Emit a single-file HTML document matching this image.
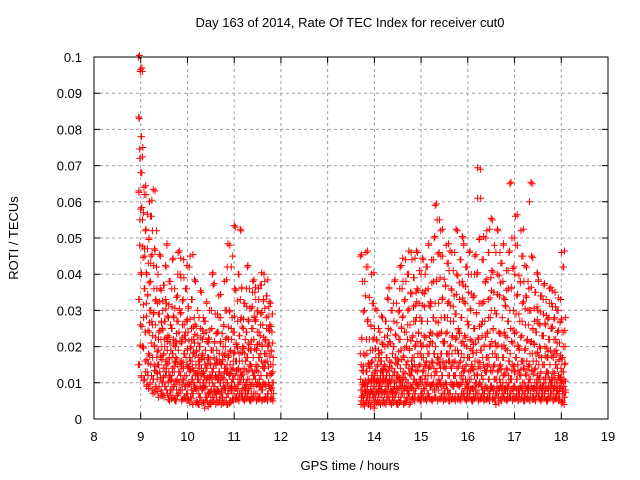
<!DOCTYPE html>
<html><head><meta charset="utf-8"><style>
html,body{margin:0;padding:0;background:#fff;}
svg{display:block;font-family:"Liberation Sans",sans-serif;}
</style></head><body>
<svg id="chart" width="640" height="480" viewBox="0 0 640 480">
<rect width="640" height="480" fill="#fff"/>
<text x="350" y="27" font-size="13" text-anchor="middle" fill="#000">Day 163 of 2014, Rate Of TEC Index for receiver cut0</text>
<g id="grid"></g>
<g id="points"></g>
<rect x="94" y="57" width="514" height="362" fill="none" stroke="#000" stroke-width="1"/>
<g id="ticks"></g>
<text x="350" y="470" font-size="13" text-anchor="middle">GPS time / hours</text>
<text x="18" y="238" font-size="13" text-anchor="middle" transform="rotate(-90 18 238)">ROTI / TECUs</text>
</svg>
<script>
const xTicks=[8,9,10,11,12,13,14,15,16,17,18,19];
const yTicks=[0,0.01,0.02,0.03,0.04,0.05,0.06,0.07,0.08,0.09,0.1];
const yTickLabels=["0","0.01","0.02","0.03","0.04","0.05","0.06","0.07","0.08","0.09","0.1"];
const binWidth=0.1;
const segAStart=8.95;
const segA=[
"100,96,97,83,78,75,72,68,63,58,55,48,40,33,26,20,15,12",
"64,62,57,52,47,45,40,36,32,28,24,20,16,13,11,9",
"60,56,50,45,43,38,34,30,27,24,21,18,15,12,10,8",
"63,52,47,42,36,33,29,26,23,20,17,15,13,11,9,7",
"45,40,36,32,29,27,24,22,19,17,15,13,11,9,8,6",
"42,37,33,30,27,25,22,20,18,16,14,12,10,9,7,6",
"48,38,32,28,26,23,21,19,17,15,13,12,10,8,7,5",
"44,36,31,28,25,22,20,18,16,14,13,11,9,8,6,5",
"46,40,34,30,27,24,21,19,17,15,13,11,10,8,7,5",
"44,39,33,29,26,23,21,18,16,14,12,11,9,8,6,5",
"42,36,31,27,24,22,19,17,15,14,12,10,9,7,6,5",
"45,33,28,25,22,20,18,16,14,13,11,10,8,7,6,4",
"38,30,26,23,21,19,17,15,13,12,11,9,8,7,5,4",
"35,28,25,22,20,18,16,14,13,12,10,9,8,6,5,4",
"32,27,24,21,19,17,15,14,12,11,10,9,7,6,5,3",
"40,30,25,22,19,17,15,13,12,11,10,8,7,6,5,4",
"37,29,24,21,19,17,15,14,12,11,9,8,7,6,5,4",
"34,28,24,21,18,16,15,13,12,11,10,8,7,6,5,4",
"38,30,26,22,20,18,16,14,13,11,10,9,8,6,5,4",
"48,42,30,25,22,19,17,15,13,12,10,9,8,7,5,4",
"53,45,36,28,24,21,18,16,14,12,11,9,8,7,6,5",
"52,40,33,27,23,20,18,16,14,13,11,10,8,7,6,5",
"36,32,28,25,22,20,18,16,14,12,11,9,8,7,6,5",
"42,36,31,27,24,21,19,17,15,13,11,10,8,7,6,5",
"38,35,31,28,25,22,19,17,15,13,12,10,9,7,6,5",
"36,33,30,27,24,21,19,17,15,13,11,10,9,7,6,5",
"40,37,33,29,26,23,20,18,16,14,12,10,9,8,6,5",
"38,34,31,28,25,22,20,18,16,14,12,10,9,7,6,5",
"32,29,26,24,21,19,17,15,13,12,10,9,8,7,6,5"];
const segBStart=13.7;
const segB=[
"45,38,30,22,18,15,13,11,10,9,8,7,6,5,4,4",
"46,42,34,27,22,18,15,13,11,10,9,8,7,6,5,4",
"40,32,26,22,19,16,14,12,11,10,9,8,7,6,5,3",
"30,25,22,19,17,15,13,12,11,10,9,8,7,6,5,4",
"28,24,21,18,16,14,13,12,11,10,9,8,7,6,5,4",
"33,27,23,20,17,15,13,12,11,10,9,8,7,6,5,4",
"36,30,25,21,18,16,14,12,11,10,9,8,7,6,5,4",
"38,32,27,23,20,17,15,13,12,10,9,8,7,6,5,4",
"42,36,30,25,22,19,16,14,12,11,10,9,8,6,5,4",
"44,38,33,28,24,20,17,15,13,11,10,9,8,7,5,4",
"46,40,35,30,26,22,19,16,14,12,10,9,8,7,6,4",
"44,39,35,31,27,23,20,17,15,13,11,10,8,7,6,5",
"46,41,36,32,28,24,21,18,15,13,11,10,9,7,6,5",
"44,40,35,31,27,23,20,17,15,13,11,10,8,7,6,5",
"48,42,36,31,27,23,20,18,16,14,12,10,9,7,6,5",
"50,44,38,32,28,24,21,18,16,14,12,10,9,8,6,5",
"59,55,46,38,32,27,23,20,17,15,13,11,9,8,6,5",
"52,45,39,33,28,24,21,18,16,14,12,10,9,7,6,5",
"48,43,37,32,28,24,21,18,16,14,12,10,8,7,6,5",
"46,41,36,31,27,23,20,18,16,14,12,10,9,7,6,5",
"52,46,40,34,29,25,22,19,16,14,12,10,9,7,6,5",
"50,44,38,33,28,24,21,18,16,14,12,10,9,7,6,5",
"48,42,37,32,27,23,20,17,15,13,11,10,8,7,6,5",
"46,40,35,30,26,22,19,17,15,13,11,9,8,7,6,5",
"45,40,34,29,25,21,18,16,14,12,10,9,8,7,6,5",
"69,61,50,40,32,26,22,19,16,14,12,10,9,7,6,5",
"50,44,38,32,27,23,20,17,15,13,11,9,8,7,6,5",
"52,46,39,33,28,24,20,17,15,13,11,9,8,7,6,5",
"55,48,41,35,30,25,21,18,15,13,11,9,8,7,6,5",
"52,46,40,34,29,24,20,17,15,13,11,9,8,7,6,4",
"48,43,38,33,28,24,20,17,14,12,10,9,8,7,6,5",
"46,41,36,31,27,23,19,16,14,12,10,9,8,7,6,5",
"65,50,42,36,30,25,21,18,15,13,11,9,8,7,6,5",
"56,48,40,34,29,24,20,17,15,13,11,9,8,7,6,5",
"52,45,38,32,27,23,19,16,14,12,10,9,8,7,6,5",
"42,38,34,30,26,22,19,16,14,12,10,9,8,7,6,5",
"65,60,45,36,30,25,21,18,15,13,11,9,8,7,6,5",
"40,35,31,27,24,21,18,16,14,12,10,9,8,7,6,5",
"38,34,30,26,23,20,17,15,13,11,10,9,8,7,6,5",
"37,33,29,26,23,20,17,15,13,11,10,9,8,7,6,5",
"36,32,28,25,22,19,17,15,13,11,10,9,8,7,6,5",
"35,31,28,25,22,19,17,15,13,11,10,9,8,7,6,5",
"33,30,27,24,21,18,16,14,12,11,10,9,8,7,6,5",
"46,42,28,24,20,17,15,13,11,10,9,8,7,6,5,4"];

const NS="http://www.w3.org/2000/svg";
const L=94,R=608,T=57,B=419;
const xMin=8,xMax=19,yMin=0,yMax=0.1;
function xs(v){return L+(v-xMin)/(xMax-xMin)*(R-L);}
function ys(v){return B-(v-yMin)/(yMax-yMin)*(B-T);}
function mk(tag,attrs){const e=document.createElementNS(NS,tag);for(const k in attrs)e.setAttribute(k,attrs[k]);return e;}
const grid=document.getElementById('grid'),ticks=document.getElementById('ticks'),pts=document.getElementById('points');

xTicks.forEach((t,i)=>{
  const x=xs(t);
  if(i>0&&i<xTicks.length-1){
    const g=mk('line',{x1:x,x2:x,y1:T,y2:B,stroke:'#a0a0a0','stroke-dasharray':'3,3','stroke-width':1});
    
    
    grid.appendChild(g);
  }
  const tk=mk('path',{d:'M'+x+','+B+'v-6M'+x+','+T+'v6',stroke:'#000','stroke-width':1});
  
  
  ticks.appendChild(tk);
  const lb=mk('text',{x:x,y:B+22,'font-size':13,'text-anchor':'middle'});
  lb.textContent=String(t);
  
  
  ticks.appendChild(lb);
});
yTicks.forEach((t,i)=>{
  const y=ys(t);
  if(i>0&&i<yTicks.length-1){
    const g=mk('line',{x1:L,x2:R,y1:y,y2:y,stroke:'#a0a0a0','stroke-dasharray':'3,3','stroke-width':1});
    
    
    grid.appendChild(g);
  }
  const tk=mk('path',{d:'M'+L+','+y+'h6M'+R+','+y+'h-6',stroke:'#000','stroke-width':1});
  
  
  ticks.appendChild(tk);
  const lb=mk('text',{x:L-12,y:y+5,'font-size':13,'text-anchor':'end'});
  lb.textContent=yTickLabels[i];
  
  
  ticks.appendChild(lb);
});

let d='';
function plus(x,y){d+='M'+(x-3.5).toFixed(1)+','+y.toFixed(1)+'h7M'+x.toFixed(1)+','+(y-3.5).toFixed(1)+'v7';}
function addSeg(start,bins){
  bins.forEach((s,bi)=>{
    const vals=s.split(',').map(Number);
    const n=vals.length;
    vals.forEach((v,i)=>{
      const y=ys(v/1000);
      const t1=start+bi*binWidth+((i*7+bi*3)%n)/n*binWidth;
      const t2=start+bi*binWidth+((i*11+bi*5+4)%n)/n*binWidth;
      plus(xs(t1),y);
      plus(xs(t2),y+((i%3)-1)*1.5);
    });
  });
}
addSeg(segAStart,segA);
addSeg(segBStart,segB);
const p=mk('path',{d:d,stroke:'#ff0000','stroke-width':1,fill:'none'});


pts.appendChild(p);
</script>
</body></html>
